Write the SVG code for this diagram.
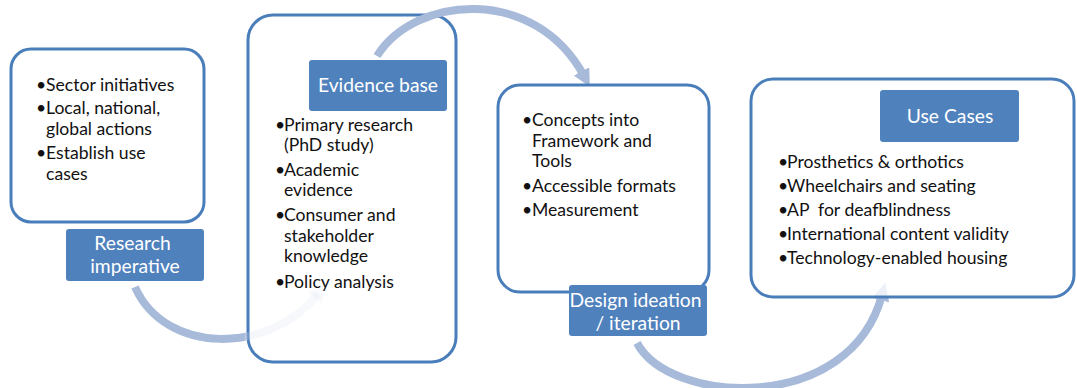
<svg xmlns="http://www.w3.org/2000/svg" width="1077" height="388" viewBox="0 0 1077 388">
  <defs>
    <style>
      .box { fill: #ffffff; stroke: #4A7EBB; stroke-width: 3; }
      .tag { fill: #4F81BD; }
      .item { font-family: Lato, "Liberation Sans", sans-serif; font-size: 17.6px; fill: #111111; }
      .tagtext { font-family: Lato, "Liberation Sans", sans-serif; font-size: 19.3px; fill: #ffffff; text-anchor: middle; }
      .flow { fill: none; stroke-width: 8; }
    </style>
    <!-- fade of the first arc once it enters the evidence box -->
    <linearGradient id="fade1" gradientUnits="userSpaceOnUse" x1="120" y1="0" x2="330" y2="0">
      <stop offset="0" stop-color="#A8BADA" stop-opacity="1"/>
      <stop offset="0.59" stop-color="#A8BADA" stop-opacity="1"/>
      <stop offset="0.62" stop-color="#A8BADA" stop-opacity="0.12"/>
      <stop offset="1" stop-color="#A8BADA" stop-opacity="0.08"/>
    </linearGradient>
    <marker id="head" viewBox="0 0 10 10" refX="3" refY="5" markerWidth="2.2" markerHeight="2.2" orient="auto" markerUnits="strokeWidth">
      <path d="M0,0 L10,5 L0,10 Z" fill="#A8BADA"/>
    </marker>
    <marker id="head1" viewBox="0 0 10 10" refX="3" refY="5" markerWidth="2.2" markerHeight="2.2" orient="auto" markerUnits="strokeWidth">
      <path d="M0,0 L10,5 L0,10 Z" fill="#A8BADA" fill-opacity="0.08"/>
    </marker>
  </defs>

  <rect width="1077" height="388" fill="#ffffff"/>

  <!-- Research imperative -->
  <g id="node-research">
    <rect class="box" x="11" y="49" width="193" height="173" rx="20"/>
    <text class="item">
      <tspan x="36" y="91">•</tspan><tspan x="46" y="91">Sector initiatives</tspan>
      <tspan x="36" y="114">•</tspan><tspan x="46" y="114">Local, national,</tspan>
      <tspan x="46" y="135">global actions</tspan>
      <tspan x="36" y="159">•</tspan><tspan x="46" y="159">Establish use</tspan>
      <tspan x="46" y="180">cases</tspan>
    </text>
    <rect class="tag" x="66" y="229" width="138" height="52" rx="3"/>
    <text class="tagtext">
      <tspan x="135" y="250">Research</tspan>
      <tspan x="135" y="273">imperative</tspan>
    </text>
  </g>

  <!-- Evidence base -->
  <g id="node-evidence">
    <rect class="box" x="248" y="15" width="208" height="347" rx="25"/>
    <rect class="tag" x="309" y="60" width="138" height="51" rx="3"/>
    <text class="tagtext" x="378" y="92">Evidence base</text>
    <text class="item">
      <tspan x="275" y="131">•</tspan><tspan x="284" y="131">Primary research</tspan>
      <tspan x="284" y="151">(PhD study)</tspan>
      <tspan x="275" y="176">•</tspan><tspan x="284" y="176">Academic</tspan>
      <tspan x="284" y="196">evidence</tspan>
      <tspan x="275" y="221">•</tspan><tspan x="284" y="221">Consumer and</tspan>
      <tspan x="284" y="242">stakeholder</tspan>
      <tspan x="284" y="262">knowledge</tspan>
      <tspan x="275" y="288">•</tspan><tspan x="284" y="288">Policy analysis</tspan>
    </text>
  </g>

  <!-- curved flow arrows -->
  <g id="connectors">
    <path class="flow" stroke="url(#fade1)" d="M135,287 C165,355 270,355 318,294" marker-end="url(#head1)"/>
    <path class="flow" stroke="#A8BADA" d="M377,56 C415,-5 535,-15 584,76" marker-end="url(#head)"/>
    <path class="flow" stroke="#A8BADA" d="M637,343 C670,405 850,415 882,295" marker-end="url(#head)"/>
  </g>

  <!-- Design ideation / iteration -->
  <g id="node-design">
    <rect class="box" x="498" y="85" width="211" height="207" rx="22"/>
    <text class="item">
      <tspan x="522" y="126">•</tspan><tspan x="532" y="126">Concepts into</tspan>
      <tspan x="532" y="147">Framework and</tspan>
      <tspan x="532" y="167">Tools</tspan>
      <tspan x="522" y="192">•</tspan><tspan x="532" y="192">Accessible formats</tspan>
      <tspan x="522" y="216">•</tspan><tspan x="532" y="216">Measurement</tspan>
    </text>
    <rect class="tag" x="569" y="285" width="138" height="51" rx="3"/>
    <text class="tagtext">
      <tspan x="638" y="307">Design ideation</tspan>
      <tspan x="638" y="330">/ iteration</tspan>
    </text>
  </g>

  <!-- Use Cases -->
  <g id="node-usecases">
    <rect class="box" x="751" y="79" width="323" height="218" rx="22" style="fill-opacity:0.78"/>
    <rect class="tag" x="880" y="90" width="139" height="52" rx="3"/>
    <text class="tagtext" x="950" y="123">Use Cases</text>
    <text class="item">
      <tspan x="778" y="168">•</tspan><tspan x="787" y="168">Prosthetics &amp; orthotics</tspan>
      <tspan x="778" y="192">•</tspan><tspan x="787" y="192">Wheelchairs and seating</tspan>
      <tspan x="778" y="216">•</tspan><tspan x="787" y="216">AP&#160; for deafblindness</tspan>
      <tspan x="778" y="240">•</tspan><tspan x="787" y="240">International content validity</tspan>
      <tspan x="778" y="264">•</tspan><tspan x="787" y="264">Technology-enabled housing</tspan>
    </text>
  </g>
</svg>
